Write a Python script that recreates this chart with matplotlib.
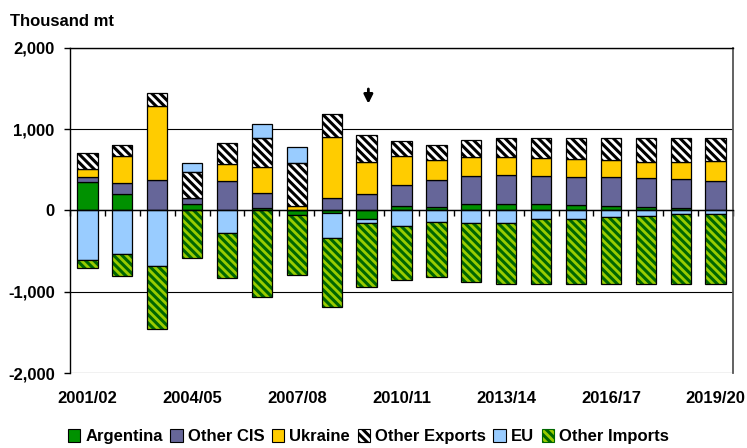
import numpy as np
import matplotlib.pyplot as plt
from matplotlib.patches import Patch
from matplotlib.transforms import blended_transform_factory

plt.rcParams.update(
    {
        "font.family": ["Liberation Sans", "DejaVu Sans"],
        "font.weight": "bold",
        "hatch.linewidth": 2.2,
    }
)

# ------------------------------------------------------------------
# data (thousand mt)
# ------------------------------------------------------------------
years = [
    "2001/02", "2002/03", "2003/04", "2004/05", "2005/06", "2006/07",
    "2007/08", "2008/09", "2009/10", "2010/11", "2011/12", "2012/13",
    "2013/14", "2014/15", "2015/16", "2016/17", "2017/18", "2018/19",
    "2019/20",
]
argentina = [345, 205, 0, 75, 0, 29, -60, -35, -100, 53, 45, 82, 74, 74, 70, 53, 41, 25, 12]
other_cis = [70, 131, 370, 75, 358, 185, 0, 152, 201, 259, 325, 342, 358, 350, 346, 354, 354, 358, 354]
ukraine = [95, 329, 922, 0, 218, 325, 60, 753, 395, 357, 251, 230, 230, 218, 214, 210, 206, 218, 247]
other_exports = [193, 136, 156, 329, 251, 350, 522, 280, 333, 185, 185, 214, 235, 251, 267, 280, 288, 288, 284]
eu = [-608, -539, -679, 103, -275, 181, 197, -300, -49, -185, -140, -152, -148, -107, -99, -74, -62, -49, -49]
other_imports = [-95, -267, -782, -588, -559, -1070, -732, -847, -787, -673, -675, -728, -761, -794, -811, -831, -843, -856, -860]

series = [
    ("Argentina", argentina, "#009100", None, None),
    ("Other CIS", other_cis, "#666699", None, None),
    ("Ukraine", ukraine, "#FFCC00", None, None),
    ("Other Exports", other_exports, "white", "black", "\\\\\\\\"),
    ("EU", eu, "#99CCFF", None, None),
    ("Other Imports", other_imports, "#99CC00", "#006600", "\\\\\\\\"),
]

label_every = 3
marker_year = 8  # 2009/10

fig = plt.figure(figsize=(7.47, 4.48), dpi=100)
ax = fig.add_axes([0.0937, 0.1674, 0.8876, 0.7255])

x = np.arange(len(years))
width = 0.58
pos_base = np.zeros(len(years))
neg_base = np.zeros(len(years))

# Excel-style stacking: positives grow up, negatives grow down
for name, vals, face, hatch_col, hatch in series:
    v = np.array(vals, dtype=float)
    bottom = np.where(v >= 0, pos_base, neg_base)
    if hatch:
        ax.bar(x, v, width, bottom=bottom, color=face, edgecolor=hatch_col,
               hatch=hatch, linewidth=0, zorder=3)
        ax.bar(x, v, width, bottom=bottom, fill=False, edgecolor="black",
               linewidth=0.9, zorder=4)
    else:
        ax.bar(x, v, width, bottom=bottom, color=face, edgecolor="black",
               linewidth=0.9, zorder=3)
    pos_base += np.where(v > 0, v, 0)
    neg_base += np.where(v < 0, v, 0)

ax.set_xlim(-0.5, len(years) - 0.5)
ax.set_ylim(-2000, 2000)
ax.set_yticks([-2000, -1000, 0, 1000, 2000])
ax.set_yticklabels([f"{t:,}" for t in [-2000, -1000, 0, 1000, 2000]], fontsize=12)
ax.tick_params(axis="y", direction="out", length=4, width=1, pad=7)
ax.yaxis.grid(True, color="black", linewidth=0.8, zorder=0)
ax.set_axisbelow(True)

# category boundary ticks sit on the zero line
ax.spines["bottom"].set_position(("data", 0))
ax.spines["bottom"].set_zorder(5)
ax.set_xticks(np.arange(len(years) + 1) - 0.5)
ax.set_xticklabels([])
ax.tick_params(axis="x", direction="out", length=4, width=1)
for s in ["left", "top", "bottom"]:
    ax.spines[s].set_color("black")
    ax.spines[s].set_linewidth(1)
ax.spines["right"].set_color("#555555")
ax.spines["right"].set_linewidth(1.3)

trans = blended_transform_factory(ax.transData, ax.transAxes)
for i in range(0, len(years), label_every):
    ax.text(x[i], -0.077, years[i], transform=trans, ha="center",
            va="center", fontsize=12, fontweight="bold")

ax.annotate("", xy=(marker_year + 0.05, 1280), xytext=(marker_year + 0.05, 1530),
            arrowprops=dict(arrowstyle="-|>", color="black", lw=2.0,
                            mutation_scale=13))

fig.text(0.013, 0.953, "Thousand mt", fontsize=12, fontweight="bold",
         va="center", ha="left")

handles = [
    Patch(facecolor=face, edgecolor=hatch_col or "black", hatch=hatch,
          linewidth=0.8, label=name)
    for name, vals, face, hatch_col, hatch in series
]
fig.legend(handles=handles, loc="center", bbox_to_anchor=(0.493, 0.025),
           ncol=6, frameon=False, fontsize=12, handlelength=0.75,
           handleheight=0.75, handletextpad=0.3, columnspacing=0.45,
           borderaxespad=0)

fig.savefig("out.png", dpi=100)
